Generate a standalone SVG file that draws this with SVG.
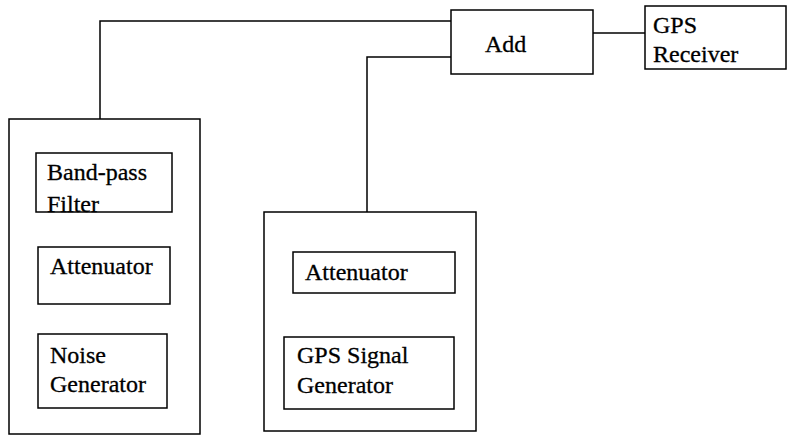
<svg xmlns="http://www.w3.org/2000/svg" width="787" height="435" viewBox="0 0 787 435">
<style>
.box{fill:none;stroke:#000;stroke-width:1.5}
.wire{fill:none;stroke:#000;stroke-width:1.5}
text{font-family:"Liberation Serif","Times New Roman",serif;font-size:24px;fill:#000;stroke:#000;stroke-width:0.3}
</style>
<rect width="787" height="435" fill="#fff"/>
<g id="connectors">
<polyline class="wire" points="100,119 100,21 451,21"/>
<polyline class="wire" points="367,212 367,57 451,57"/>
<line class="wire" x1="593" y1="33" x2="645" y2="33"/>
</g>
<g id="noise-unit">
<rect class="box" x="9" y="119" width="191" height="315"/>
</g>
<g id="bandpass-filter">
<rect class="box" x="36" y="153" width="136" height="59"/>
<text x="47" y="180">Band-pass</text>
<text x="47" y="212">Filter</text>
</g>
<g id="attenuator-1">
<rect class="box" x="38" y="247" width="132" height="57"/>
<text x="50" y="274">Attenuator</text>
</g>
<g id="noise-generator">
<rect class="box" x="38" y="334" width="129" height="74"/>
<text x="50" y="363">Noise</text>
<text x="50" y="392">Generator</text>
</g>
<g id="signal-unit">
<rect class="box" x="264" y="212" width="212" height="219"/>
</g>
<g id="attenuator-2">
<rect class="box" x="293" y="252" width="162" height="41"/>
<text x="305" y="280">Attenuator</text>
</g>
<g id="gps-signal-generator">
<rect class="box" x="284" y="337" width="170" height="72"/>
<text x="297" y="363">GPS Signal</text>
<text x="297" y="393">Generator</text>
</g>
<g id="add">
<rect class="box" x="451" y="10" width="142" height="64"/>
<text x="485" y="52">Add</text>
</g>
<g id="gps-receiver">
<rect class="box" x="645" y="6" width="141" height="63"/>
<text x="653" y="33">GPS</text>
<text x="653" y="62">Receiver</text>
</g>
</svg>
